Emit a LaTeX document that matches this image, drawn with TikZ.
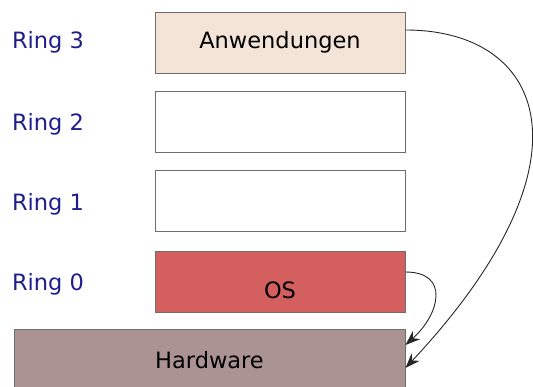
\documentclass[tikz,border=0pt]{standalone}
\usepackage{fontspec}
\setmainfont{DejaVu Sans}
\usetikzlibrary{arrows.meta}

\definecolor{ringblue}{RGB}{30,30,140}
\definecolor{appfill}{RGB}{244,227,215}
\definecolor{osfill}{RGB}{211,95,95}
\definecolor{hwfill}{RGB}{172,147,147}
\definecolor{boxline}{RGB}{110,110,110}

\begin{document}
\begin{tikzpicture}[x=1pt,y=-1pt,
ringbox/.style={draw=boxline,line width=0.9pt,minimum width=250pt,minimum height=61pt,
  inner sep=0pt,font=\fontsize{22.5}{26}\selectfont},
ringlabel/.style={text=ringblue,font=\fontsize{22.5}{26}\selectfont},
call/.style={draw=black!85,line width=0.9pt,-{Stealth[length=15pt,width=11pt,inset=5pt]}}]
\useasboundingbox (0,0) rectangle (533,387);
% rings
\node[ringbox,fill=appfill] (app) at (280,42.5) {Anwendungen};
\node[ringbox] (r2) at (280,121.5) {};
\node[ringbox] (r1) at (280,200.5) {};
\node[ringbox,fill=osfill,text height=34pt,text depth=0pt] (os) at (280,281.5) {OS};
\node[ringbox,fill=hwfill,minimum width=391pt,minimum height=62pt] (hw) at (209.5,360) {Hardware};
% labels
\node[ringlabel] (l3) at (48,42) {Ring 3};
\node[ringlabel] (l2) at (48,124) {Ring 2};
\node[ringlabel] (l1) at (48,204) {Ring 1};
\node[ringlabel] (l0) at (48,284) {Ring 0};
% calls
\draw[call] (app.east |- 0,30) .. controls (545,30) and (600,160) .. (hw.east |- 0,368);
\draw[call] (os.east |- 0,272) .. controls (450,272) and (440,314) .. (hw.east |- 0,345);
\end{tikzpicture}
\end{document}
